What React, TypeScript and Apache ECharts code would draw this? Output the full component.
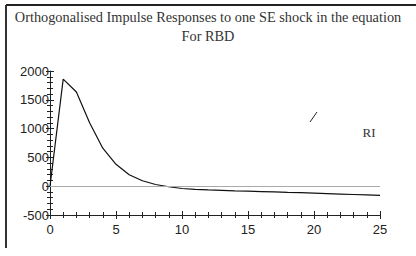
import React, { useEffect, useRef } from "react";
import * as echarts from "echarts";

const horizons = Array.from({ length: 26 }, (_, i) => String(i));
const responseRI = [0, 1860, 1635, 1100, 660, 380, 200, 95, 30, -10, -40, -55, -65, -72, -80, -87, -93, -100, -107, -113, -120, -128, -136, -144, -152, -160];
const titleLine1 = "Orthogonalised Impulse Responses to one SE shock in the equation";
const titleLine2 = "For RBD";
const seriesName = "RI";

export default function App() {
  const ref = useRef<HTMLDivElement>(null);
  useEffect(() => {
    const chart = echarts.init(ref.current!, null, { renderer: "svg" });
    const sans = "Liberation Sans, Arial, sans-serif";
    const serif = "Liberation Serif, Times New Roman, serif";
    const grid = { left: 50, right: 36, top: 71, bottom: 41 };
    const xBase = {
      type: "value" as const,
      min: 0,
      max: 25,
      interval: 5,
    };
    const yBase = {
      type: "value" as const,
      min: -500,
      max: 2000,
      interval: 500,
    };
    chart.setOption({
      animation: false,
      backgroundColor: "#fff",
      grid,
      xAxis: [
        {
          ...xBase,
          axisLine: { onZero: false, lineStyle: { color: "#222", width: 1 } },
          axisTick: { show: true, length: 4, inside: false, lineStyle: { color: "#222" } },
          minorTick: { show: true, splitNumber: 5, length: 3, lineStyle: { color: "#222" } },
          axisLabel: { color: "#222", fontFamily: sans, fontSize: 13, margin: 8, formatter: (v: number) => String(v) },
          splitLine: { show: false },
        },
        {
          ...xBase,
          position: "bottom",
          axisLine: { show: false, onZero: false },
          axisTick: { show: true, length: 4, inside: true, lineStyle: { color: "#222" } },
          minorTick: { show: true, splitNumber: 5, length: 3, lineStyle: { color: "#222" } },
          axisLabel: { show: false },
          splitLine: { show: false },
        },
      ],
      yAxis: [
        {
          ...yBase,
          axisLine: { show: true, onZero: false, lineStyle: { color: "#222", width: 1 } },
          axisTick: { show: true, length: 4, inside: false, lineStyle: { color: "#222" } },
          minorTick: { show: true, splitNumber: 5, length: 3, lineStyle: { color: "#222" } },
          axisLabel: { color: "#222", fontFamily: sans, fontSize: 13, margin: 1, formatter: (v: number) => String(v) },
          splitLine: { show: false },
        },
        {
          ...yBase,
          position: "left",
          axisLine: { show: false, onZero: false },
          axisTick: { show: true, length: 4, inside: true, lineStyle: { color: "#222" } },
          minorTick: { show: true, splitNumber: 5, length: 3, lineStyle: { color: "#222" } },
          axisLabel: { show: false },
          splitLine: { show: false },
        },
      ],
      series: [
        {
          name: seriesName,
          type: "line",
          data: responseRI.map((v, i) => [Number(horizons[i]), v]),
          symbol: "none",
          lineStyle: { color: "#111", width: 1.2 },
          markLine: {
            silent: true,
            symbol: "none",
            label: { show: false },
            lineStyle: { color: "#aaa", type: "solid", width: 1.2 },
            data: [{ yAxis: 0 }],
          },
        },
      ],
      graphic: [
        { type: "line", shape: { x1: 6, y1: 5, x2: 416, y2: 5 }, style: { stroke: "#222", lineWidth: 2 } },
        { type: "line", shape: { x1: 6, y1: 5, x2: 6, y2: 248 }, style: { stroke: "#333", lineWidth: 2 } },
        {
          type: "text",
          x: 208,
          y: 17,
          style: { text: titleLine1, font: `14.3px ${serif}`, fill: "#333", textAlign: "center", textVerticalAlign: "middle" },
        },
        {
          type: "text",
          x: 208,
          y: 36,
          style: { text: titleLine2, font: `14.3px ${serif}`, fill: "#333", textAlign: "center", textVerticalAlign: "middle" },
        },
        { type: "line", shape: { x1: 310, y1: 122, x2: 317, y2: 112 }, style: { stroke: "#222", lineWidth: 1 } },
        {
          type: "text",
          x: 369,
          y: 132,
          style: { text: seriesName, font: `13px ${serif}`, fill: "#333", textAlign: "center", textVerticalAlign: "middle" },
        },
      ],
    });
    return () => chart.dispose();
  }, []);
  return <div ref={ref} style={{ width: 416, height: 256, position: "absolute", left: 0, top: 0 }} />;
}
